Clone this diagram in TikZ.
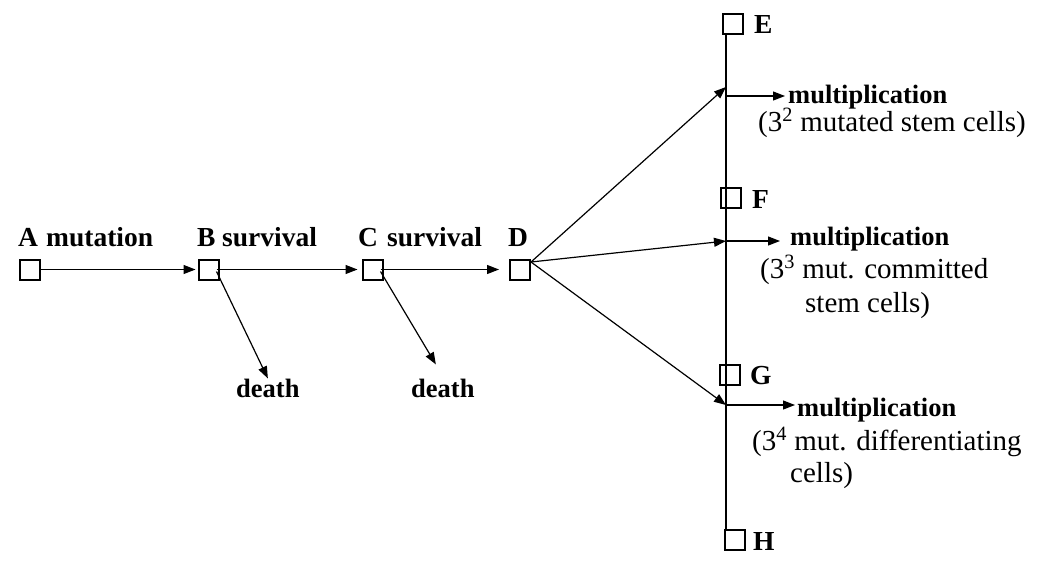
\documentclass[tikz,border=0pt]{standalone}
\usepackage{fontspec}
\setmainfont{Liberation Serif}
\usetikzlibrary{arrows.meta}
\begin{document}
\begin{tikzpicture}[x=1pt,y=-1pt,
  cell/.style={draw,line width=2pt,minimum size=20pt,inner sep=0pt},
  lab/.style={font=\fontsize{27.5}{31}\selectfont\bfseries,inner sep=0pt,anchor=base west},
  labs/.style={font=\fontsize{26.5}{30}\selectfont\bfseries,inner sep=0pt,anchor=base west},
  note/.style={font=\fontsize{29}{33}\selectfont,inner sep=0pt,anchor=base west},
  arr/.style={line width=1.2pt,-{Triangle[length=12pt,width=9pt]}},
  ln/.style={line width=1.2pt}]
\useasboundingbox (0,0) rectangle (1038,560);
% boxes
\node[cell] (A) at (29.5,269.5) {};
\node[cell] (B) at (208.5,269.5) {};
\node[cell] (C) at (372.5,269.5) {};
\node[cell] (D) at (520,269.5) {};
\node[cell] (E) at (732.5,23.5) {};
\node[cell] (F) at (730.5,198) {};
\node[cell] (G) at (730,374.5) {};
\node[cell] (H) at (735,540) {};
% top labels
\node[lab] (lA) at (18,246) {A};
\node[lab] (lmut) at (46,246) {mutation};
\node[lab] (lB) at (197,246) {B};
\node[lab] (lsurvB) at (222,246) {survival};
\node[lab] (lC) at (358,246) {C};
\node[lab] (lsurvC) at (387,246) {survival};
\node[lab] (lD) at (508,246) {D};
\node[labs] (d1) at (236,397) {death};
\node[labs] (d2) at (411,397) {death};
% right labels
\node[lab] (lE) at (754,33) {E};
\node[lab] (lF) at (752,208) {F};
\node[lab] (lG) at (750,384) {G};
\node[lab] (lH) at (753,550) {H};
\node[labs] (m1) at (788,103) {multiplication};
\node[note] (n1) at (758,131) {(3\textsuperscript{2} mutated stem cells)};
\node[labs] (m2) at (790,245) {multiplication};
\node[note] (n2a) at (760,278) {(3\textsuperscript{3} mut. committed};
\node[note] (n2b) at (805,312) {stem cells)};
\node[labs] (m3) at (797,416) {multiplication};
\node[note] (n3a) at (752,450) {(3\textsuperscript{4} mut. differentiating};
\node[note] (n3b) at (790,482) {cells)};
% vertical line and junctions
\coordinate (vt) at (726,33);
\coordinate (vb) at (726,530);
\coordinate (j1) at (726,87);
\coordinate (j2) at (726,241);
\coordinate (j3) at (726,405);
\coordinate (k1) at (726,96);
\coordinate (k2) at (726,241);
\coordinate (k3) at (726,405);
\coordinate (dD) at (531,262);
\draw[ln] (vt) -- (vb);
% chain arrows
\draw[arr] (A.east) -- ([xshift=-2pt]B.west);
\draw[arr] ([xshift=-3pt]B.east) -- ([xshift=-4pt]C.west);
\draw[arr] ([xshift=-3pt]C.east) -- ([xshift=-10pt]D.west);
\draw[arr] ([xshift=-3pt,yshift=-2pt]B.east) -- (d1.north);
\draw[arr] ([xshift=-3pt,yshift=-2pt]C.east) -- ([xshift=-7pt,yshift=14pt]d2.north);
% fan from D
\draw[arr] (dD) -- (j1);
\draw[arr] (dD) -- (j2);
\draw[arr] (dD) -- (j3);
% multiplication arrows
\draw[arr] (k1) -- ([xshift=-3pt]k1 -| m1.west);
\draw[arr] (k2) -- ([xshift=-10pt]k2 -| m2.west);
\draw[arr] (k3) -- ([xshift=-2pt]k3 -| m3.west);
\end{tikzpicture}
\end{document}
